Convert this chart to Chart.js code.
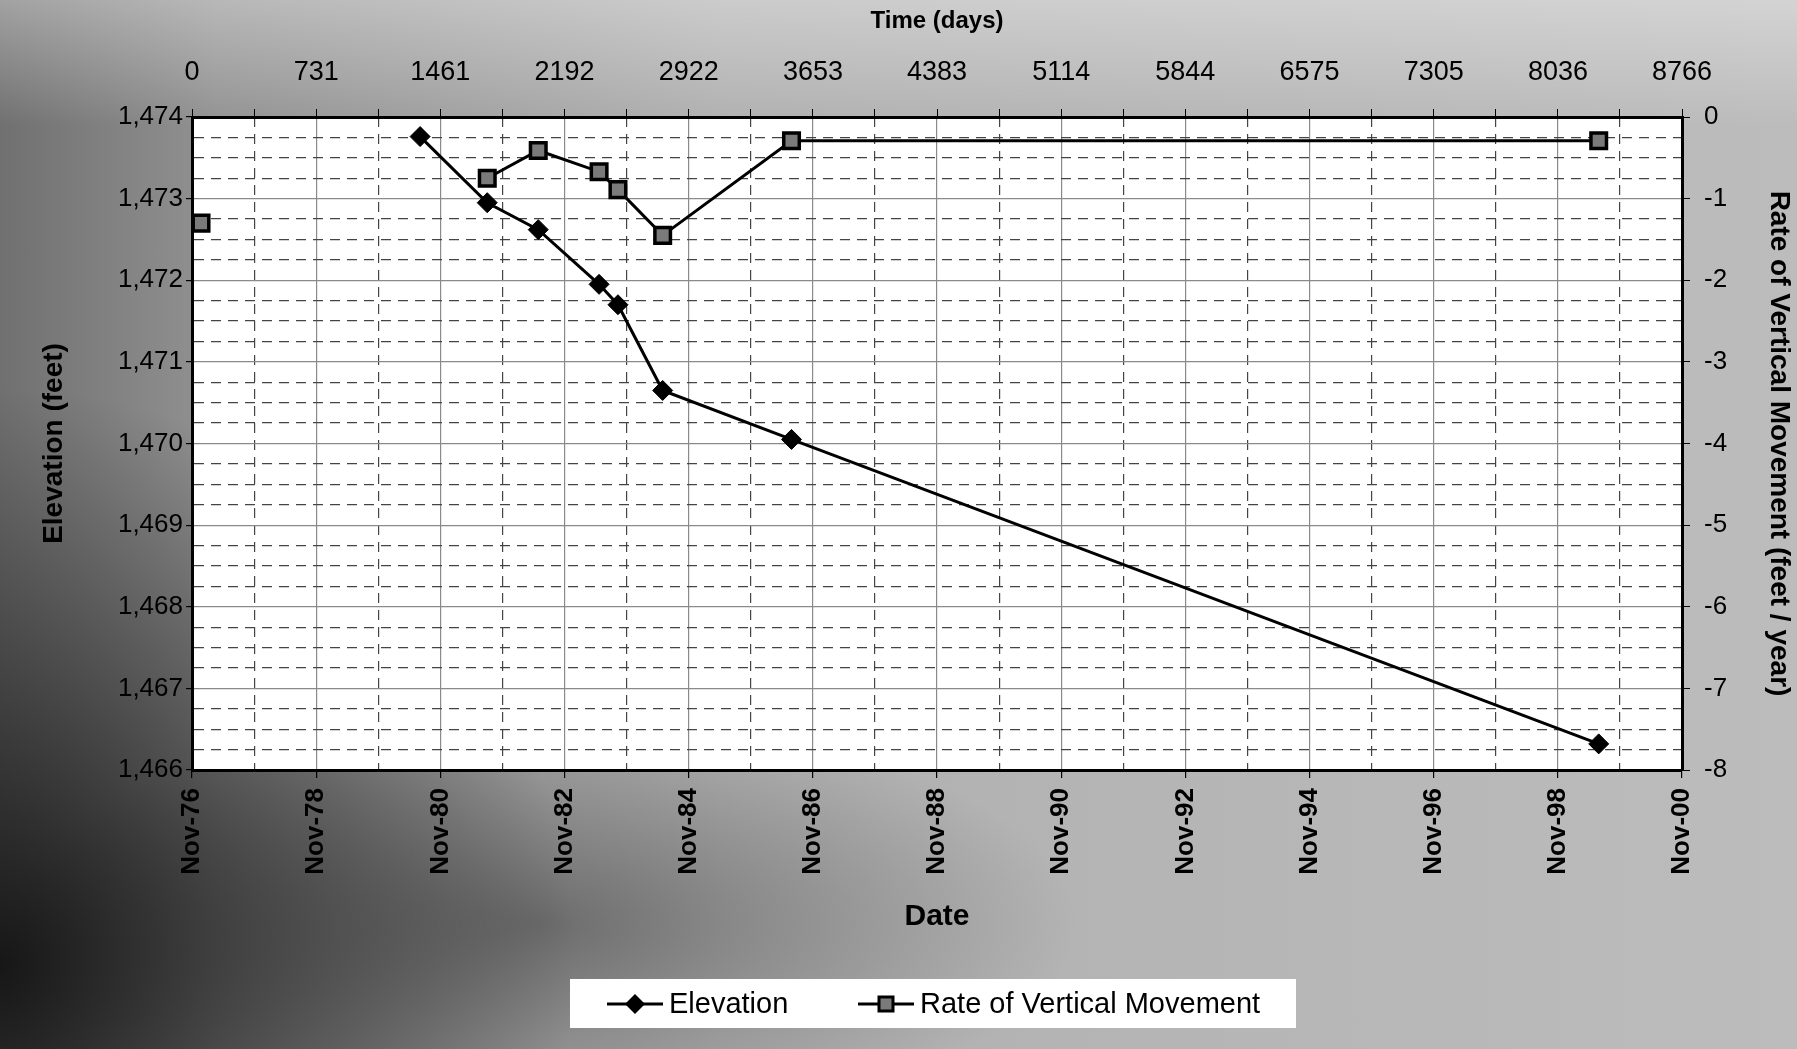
<!DOCTYPE html>
<html lang="en">
<head>
<meta charset="UTF-8">
<title>Elevation and Rate of Vertical Movement</title>
<script src="https://cdn.jsdelivr.net/npm/chart.js@4.4.1/dist/chart.umd.min.js"></script>
<style>
  html, body { margin: 0; padding: 0; }
  body {
    width: 1797px; height: 1049px; overflow: hidden;
    background:
      linear-gradient(to bottom, rgba(255,255,255,0.35) 0%, rgba(255,255,255,0) 12%),
      radial-gradient(ellipse 32% 55% at 0% 92%, rgba(0,0,0,0.8) 0%, rgba(0,0,0,0) 100%),
      radial-gradient(ellipse 30% 20% at 30% 88%, rgba(0,0,0,0.35) 0%, rgba(0,0,0,0) 100%),
      linear-gradient(to right, #707070 0%, #929292 12%, #b0b0b0 40%, #bcbcbc 100%);
  }
  #wrap { position: relative; width: 1797px; height: 1049px; }
</style>
</head>
<body>
<div id="wrap"><canvas id="chart" width="1797" height="1049"></canvas></div>
<script>
// survey dates, counted in days from Nov-76
const surveyDays = [53, 1342, 1737, 2037, 2395, 2506, 2769, 3527, 8276];
const elevation = [null, 1473.76, 1472.95, 1472.62, 1471.95, 1471.70, 1470.65, 1470.05, 1466.32];
const rate = [-1.30, null, -0.75, -0.41, -0.67, -0.89, -1.45, -0.29, -0.29];

// axis labels
const dayLabels = [0, 731, 1461, 2192, 2922, 3653, 4383, 5114, 5844, 6575, 7305, 8036, 8766];
const dateLabels = ['Nov-76', 'Nov-78', 'Nov-80', 'Nov-82', 'Nov-84', 'Nov-86', 'Nov-88',
  'Nov-90', 'Nov-92', 'Nov-94', 'Nov-96', 'Nov-98', 'Nov-00'];
const elevTicks = [1466, 1467, 1468, 1469, 1470, 1471, 1472, 1473, 1474];
const elevLabels = ['1,466', '1,467', '1,468', '1,469', '1,470', '1,471', '1,472', '1,473', '1,474'];
const rateTicks = [-8, -7, -6, -5, -4, -3, -2, -1, 0];

const FONT = '"Liberation Sans", Arial, sans-serif';
Chart.defaults.font.family = FONT;
Chart.defaults.color = '#000';

// minor ticks between majors (yearly on x, quarter units on y)
function subdivide(major, parts) {
  const out = [];
  for (let i = 0; i < major.length; i++) {
    out.push(major[i]);
    if (i < major.length - 1) {
      const step = (major[i + 1] - major[i]) / parts;
      for (let k = 1; k < parts; k++) out.push(major[i] + step * k);
    }
  }
  return out;
}
const xAll = subdivide(dayLabels, 2);
const yAll = subdivide(elevTicks, 4);

const isMajorX = v => dayLabels.includes(v);
const isMajorY = v => elevTicks.includes(v);

const plotBg = {
  id: 'plotBg',
  beforeDraw(chart) {
    const { ctx, chartArea: a } = chart;
    ctx.save();
    ctx.fillStyle = '#fff';
    ctx.fillRect(a.left, a.top, a.right - a.left, a.bottom - a.top);
    ctx.restore();
  }
};

// legend box with line + marker samples, like the spreadsheet legend
const boxLegend = {
  id: 'boxLegend',
  afterDraw(chart) {
    const ctx = chart.ctx;
    const cy = 1004;
    ctx.save();
    ctx.fillStyle = '#fff';
    ctx.fillRect(570, 979, 726, 49);
    ctx.font = '29px ' + FONT;
    ctx.textBaseline = 'middle';
    [[607, 0], [858, 1]].forEach(([x, i]) => {
      const ds = chart.data.datasets[i];
      ctx.strokeStyle = '#000';
      ctx.lineWidth = 3;
      ctx.beginPath();
      ctx.moveTo(x, cy);
      ctx.lineTo(x + 56, cy);
      ctx.stroke();
      const mx = x + 28;
      ctx.beginPath();
      if (ds.pointStyle === 'rectRot') {
        ctx.moveTo(mx, cy - 10); ctx.lineTo(mx + 10, cy); ctx.lineTo(mx, cy + 10); ctx.lineTo(mx - 10, cy);
        ctx.closePath();
        ctx.fillStyle = '#000';
        ctx.fill();
      } else {
        ctx.rect(mx - 7, cy - 7, 14, 14);
        ctx.fillStyle = ds.pointBackgroundColor;
        ctx.fill();
        ctx.lineWidth = 3;
        ctx.stroke();
      }
      ctx.fillStyle = '#000';
      ctx.fillText(ds.label, x + 62, cy + 1);
    });
    ctx.restore();
  }
};

new Chart(document.getElementById('chart'), {
  type: 'line',
  data: {
    datasets: [{
      label: 'Elevation',
      data: surveyDays.map((d, i) => ({ x: d, y: elevation[i] })),
      yAxisID: 'y',
      borderColor: '#000',
      borderWidth: 3,
      pointStyle: 'rectRot',
      pointRadius: 10,
      pointBackgroundColor: '#000',
      pointBorderColor: '#000',
      pointBorderWidth: 1,
      spanGaps: false,
      tension: 0
    }, {
      label: 'Rate of Vertical Movement',
      data: surveyDays.map((d, i) => ({ x: d, y: rate[i] })),
      yAxisID: 'y1',
      borderColor: '#000',
      borderWidth: 3,
      pointStyle: 'rect',
      pointRadius: 11,
      pointBackgroundColor: '#7a7a7a',
      pointBorderColor: '#000',
      pointBorderWidth: 3.5,
      spanGaps: false,
      tension: 0
    }]
  },
  options: {
    responsive: false,
    animation: false,
    layout: { padding: { left: 0, right: 0, top: 0, bottom: 114 } },
    plugins: { legend: { display: false }, tooltip: { enabled: false } },
    scales: {
      x: {
        type: 'linear', position: 'bottom', min: 0, max: 8766,
        afterBuildTicks: s => { s.ticks = xAll.map(v => ({ value: v })); },
        afterFit: s => { s.height = 165; },
        ticks: {
          autoSkip: false, minRotation: 90, maxRotation: 90, padding: 10,
          font: { size: 26, weight: 'bold' },
          callback: v => { const i = dayLabels.indexOf(v); return i < 0 ? '' : dateLabels[i]; }
        },
        grid: {
          color: c => (c.tick && !isMajorX(c.tick.value)) ? '#444' : '#8a8a8a',
          lineWidth: 1.2, tickLength: 8,
          tickColor: c => (c.tick && isMajorX(c.tick.value)) ? '#000' : 'rgba(0,0,0,0)'
        },
        border: {
          color: '#000', width: 3,
          dash: c => (c.tick && !isMajorX(c.tick.value)) ? [10, 7] : []
        },
        title: { display: true, text: 'Date', font: { size: 30, weight: 'bold' }, padding: { top: 0, bottom: 0 } }
      },
      x2: {
        type: 'linear', position: 'top', min: 0, max: 8766,
        afterBuildTicks: s => { s.ticks = xAll.map(v => ({ value: v })); },
        afterFit: s => { s.height = 117; },
        ticks: {
          autoSkip: false, maxRotation: 0, padding: 20, font: { size: 27 },
          callback: v => isMajorX(v) ? String(v) : ''
        },
        grid: { drawOnChartArea: false, tickLength: 8, tickColor: '#000' },
        border: { color: '#000', width: 3 },
        title: { display: true, text: 'Time (days)', font: { size: 24, weight: 'bold' }, padding: { top: 7, bottom: 0 } }
      },
      y: {
        type: 'linear', position: 'left', min: 1466, max: 1474,
        afterBuildTicks: s => { s.ticks = yAll.map(v => ({ value: v })); },
        afterFit: s => { s.width = 192; },
        ticks: {
          autoSkip: false, padding: 3, font: { size: 26 },
          callback: v => { const i = elevTicks.indexOf(v); return i < 0 ? '' : elevLabels[i]; }
        },
        grid: {
          color: c => (c.tick && !isMajorY(c.tick.value)) ? '#444' : '#8a8a8a',
          lineWidth: 1.2, tickLength: 6,
          tickColor: c => (c.tick && isMajorY(c.tick.value)) ? '#000' : 'rgba(0,0,0,0)'
        },
        border: {
          color: '#000', width: 3,
          dash: c => (c.tick && !isMajorY(c.tick.value)) ? [10, 7] : []
        },
        title: { display: true, text: 'Elevation (feet)', font: { size: 28, weight: 'bold' }, padding: { top: 37, bottom: 0 } }
      },
      y1: {
        type: 'linear', position: 'right', min: -8, max: 0,
        afterBuildTicks: s => { s.ticks = rateTicks.map(v => ({ value: v })); },
        afterFit: s => { s.width = 115; },
        ticks: { autoSkip: false, padding: 14, font: { size: 26 } },
        grid: { drawOnChartArea: false, tickLength: 8, tickColor: '#000' },
        border: { color: '#000', width: 3 },
        title: { display: true, text: 'Rate of Vertical Movement (feet / year)', font: { size: 28, weight: 'bold' }, padding: { top: 1, bottom: 0 } }
      }
    }
  },
  plugins: [plotBg, boxLegend]
});
</script>
</body>
</html>
